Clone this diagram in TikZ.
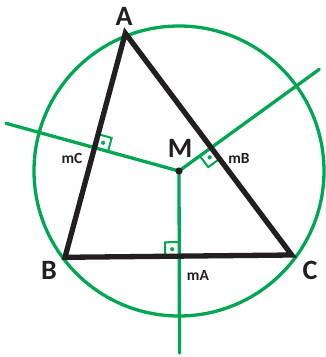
\documentclass[tikz,border=0pt]{standalone}
\usepackage{fontspec}
\setmainfont{Carlito}
\usetikzlibrary{calc}
\definecolor{bisgreen}{RGB}{0,166,81}
\definecolor{trblack}{RGB}{35,31,32}
% right angle mark at #1, legs towards #2 and #3
\newcommand\rtmark[3]{%
  \draw[bisgreen,line width=2pt,line join=miter] ($(#1)!14pt!(#2)$) -- ($(#1)!14pt!(#2)+(#1)!14pt!(#3)-(#1)$) -- ($(#1)!14pt!(#3)$);
  \fill[bisgreen] ($(#1)!7pt!(#2)+(#1)!7pt!(#3)-(#1)$) circle[radius=2.1pt];}
\begin{document}
\begin{tikzpicture}[x=1pt,y=-1pt,line join=miter,line cap=round]
	\tikzset{every node/.style={font=\bfseries\fontsize{28}{28}\selectfont,text=trblack,inner sep=0pt},
		small/.style={font=\bfseries\fontsize{15.5}{15.5}\selectfont},
		bisec/.style={bisgreen,line width=3.3pt}}
	\useasboundingbox (0,0) rectangle (325,357);
	\coordinate (A) at (125.3,33.3);
	\coordinate (B) at (65,257.3);
	\coordinate (C) at (291.7,255);
	\coordinate (M) at (179,171);
	\coordinate (eA) at (179.5,353);
	\coordinate (eB) at (319.3,69.3);
	\coordinate (eC) at (6,123.3);
	\coordinate (pA) at (intersection of B--C and M--eA);
	\coordinate (pB) at (intersection of A--C and M--eB);
	\coordinate (pC) at (intersection of A--B and M--eC);
	\draw[bisec] (M) circle[radius=145pt];
	\foreach \e in {eA,eB,eC}
	\draw[bisec] (M)--(\e);
	\rtmark{pA}{B}{M}
	\rtmark{pB}{C}{M}
	\rtmark{pC}{A}{M}
	\draw[trblack,line width=5.3pt] (A)--(B)--(C)--cycle;
	\fill[trblack] (M) circle[radius=3.6pt];
	\node (lA) at (124,16) {A};
	\node (lB) at (49,270) {B};
	\node (lC) at (310,270) {C};
	\node (lM) at (180,148) {M};
	\node[small] (lmA) at (198,275) {mA};
	\node[small] (lmB) at (239,158.5) {mB};
	\node[small] (lmC) at (72,158.5) {mC};
\end{tikzpicture}
\end{document}
